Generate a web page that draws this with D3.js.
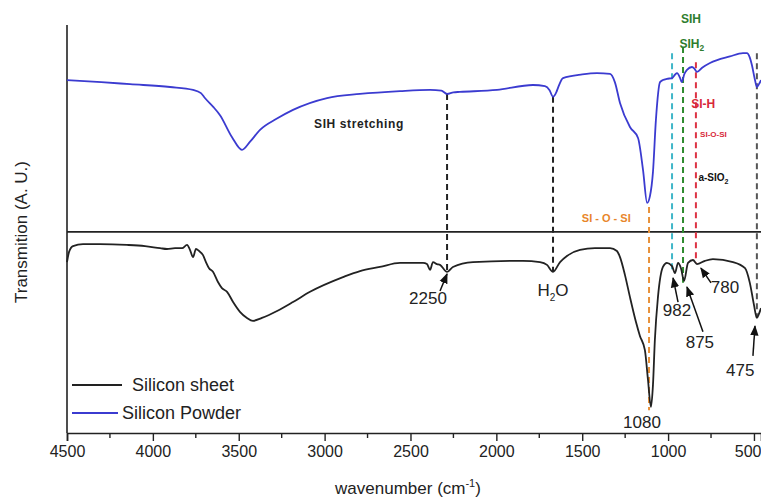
<!DOCTYPE html>
<html>
<head>
<meta charset="utf-8">
<script src="https://cdn.jsdelivr.net/npm/d3@7"></script>
<style>
body { margin: 0; background: #fff; }
text { font-family: "Liberation Sans", Arial, sans-serif; }
</style>
</head>
<body>
<svg width="761" height="499"></svg>
<script>
// FTIR spectra, wavenumber (cm-1) vs transmission (a.u., 0-100)
var powderWn = [4500,4300,4133,3900,3766,3720,3697,3650,3609,3539,3481,3434,3376,3280,3184,2986,2794,2561,2386,2320,2287,2250,2212,1996,1787,1717,1690,1670,1650,1641,1612,1500,1414,1338,1310,1280,1222,1175,1146,1122,1106,1088,1071,1047,1030,1007,977,960,948,930,921,905,890,861,845,832,800,756,640,564,541,524,512,494,483,471,459];
var powderT  = [86.5,86.0,85.5,84.8,84.1,83.3,82.1,80.0,77.9,72.5,69.4,71.4,74.3,77.0,79.2,82.1,83.1,83.8,84.1,83.9,83.1,83.5,83.6,84.1,85.3,85.0,84.0,82.4,83.6,84.6,87.0,87.9,88.2,88.0,86.0,80.9,75.0,72.3,64.5,56.4,58.0,64.0,76.7,86.0,86.5,86.8,87.0,87.8,88.2,87.0,86.0,88.0,89.0,89.7,89.2,88.5,89.6,90.7,92.3,93.1,93.1,92.0,90.2,86.5,84.8,85.5,86.5];

var sheetWn = [4500,4488,4465,4407,4308,4151,4046,3958,3918,3871,3830,3801,3784,3766,3749,3731,3708,3691,3673,3650,3621,3598,3568,3533,3493,3452,3417,3365,3277,3184,3085,2893,2794,2678,2561,2427,2404,2386,2369,2346,2328,2287,2253,2136,1845,1746,1705,1670,1629,1589,1513,1426,1338,1298,1280,1251,1222,1187,1164,1135,1117,1100,1088,1077,1059,1030,1007,977,960,942,925,907,884,855,832,785,739,622,552,524,500,483,471,459];
var sheetT  = [41.9,44.4,45.8,46.3,46.3,46.1,45.8,45.3,45.1,45.3,45.3,46.1,44.9,43.1,45.1,44.6,43.6,41.9,40.4,39.5,37.0,35.5,34.6,32.1,29.7,28.2,27.5,28.2,29.9,32.1,34.6,38.2,39.7,40.7,41.7,41.7,41.4,40.0,41.9,41.4,41.2,39.5,40.7,41.9,42.2,41.9,41.2,39.5,41.9,43.4,44.9,45.3,45.3,44.6,43.1,38.7,33.3,27.2,23.8,20.3,13.0,6.4,11.8,22.8,33.3,40.7,41.7,40.9,39.2,41.7,40.4,37.3,41.7,42.4,41.4,42.2,42.6,41.9,40.4,36.8,31.4,28.2,29.2,30.6];

// dashed guide lines between the two spectra
var guideWn     = [2287, 1670, 1111, 977, 913, 838, 483];
var guideTop    = [83.1, 82.4, 55.4, 93.1, 94.6, 90.9, 93.1];
var guideBottom = [39.5, 39.5, 5.6, 39.2, 36.8, 41.7, 28.2];
var guideColor  = ["#222", "#222", "#e8913a", "#3fb6c8", "#2e8b2e", "#dd3344", "#555"];

// peak labels on the sheet spectrum
var peakText = ["2250", "H2O", "982", "875", "780", "475", "1080"];
var peakWn   = [2398, 1670, 948, 815, 669, 580, 1152];
var peakT    = [31.6, 33.6, 28.7, 20.8, 34.3, 14.0, 1.2];
var arrowFrom = [[2328,34.8], null, [942,32.1], [797,24.8], [750,36.8], [506,18.9], null];
var arrowTo   = [[2287,39.0], null, [971,38.0], [890,35.8], [809,40.4], [494,26.2], null];

var xTicks = [4500,4000,3500,3000,2500,2000,1500,1000,500];
var xMinor = [4250,3750,3250,2750,2250,1750,1250,750];
var legendNames = ["Silicon sheet", "Silicon Powder"];
var legendColors = ["#222", "#3b3bd0"];

var svg = d3.select("svg");
var x = d3.scaleLinear().domain([4500, 459]).range([67, 761]);
var y = d3.scaleLinear().domain([0, 100]).range([433, 25]);

svg.append("defs").append("marker")
  .attr("id", "arr").attr("viewBox", "0 0 10 10")
  .attr("refX", 9).attr("refY", 5)
  .attr("markerWidth", 7).attr("markerHeight", 7)
  .attr("orient", "auto")
  .append("path").attr("d", "M0,1 L10,5 L0,9 z").attr("fill", "#111");

// axes
var xAxis = d3.axisBottom(x).tickValues(xTicks).tickSize(8).tickPadding(5).tickFormat(d3.format("d"));
var gx = svg.append("g").attr("transform", "translate(0,433)").call(xAxis);
gx.select(".domain").attr("stroke", "#222").attr("stroke-width", 1.6);
gx.selectAll(".tick line").attr("stroke", "#222").attr("stroke-width", 1.4);
gx.selectAll(".tick text").attr("font-size", 16).attr("fill", "#222")
  .style("font-family", "'Liberation Sans', Arial, sans-serif")
  .filter(d => d == 500).attr("text-anchor", "end").attr("dx", 7);
svg.append("g").selectAll("line").data(xMinor).join("line")
  .attr("x1", d => x(d)).attr("x2", d => x(d))
  .attr("y1", 433).attr("y2", 438)
  .attr("stroke", "#222").attr("stroke-width", 1.4);

svg.append("line").attr("x1", 67).attr("x2", 67).attr("y1", y(100)).attr("y2", 433)
  .attr("stroke", "#222").attr("stroke-width", 1.6);

// divider between the two spectra
svg.append("line").attr("x1", 67).attr("x2", 761).attr("y1", y(49.3)).attr("y2", y(49.3))
  .attr("stroke", "#222").attr("stroke-width", 1.6);

svg.append("text").attr("x", 408).attr("y", 494).attr("text-anchor", "middle")
  .attr("font-size", 17).attr("fill", "#222")
  .text("wavenumber (cm")
  .append("tspan").attr("dy", -7).attr("font-size", 11).text("-1")
  .select(function() { return this.parentNode; })
  .append("tspan").attr("dy", 7).text(")");

svg.append("text").attr("transform", "translate(27,232) rotate(-90)")
  .attr("text-anchor", "middle").attr("font-size", 17).attr("fill", "#222")
  .text("Transmition (A. U.)");

// guide lines
svg.append("g").selectAll("line").data(guideWn).join("line")
  .attr("x1", d => x(d)).attr("x2", d => x(d))
  .attr("y1", (d, i) => y(guideTop[i])).attr("y2", (d, i) => y(guideBottom[i]))
  .attr("stroke", (d, i) => guideColor[i])
  .attr("stroke-width", 2).attr("stroke-dasharray", "6,4");

// spectra
var line = d3.line().x(d => x(d[0])).y(d => y(d[1])).curve(d3.curveMonotoneX);
svg.append("path").datum(d3.zip(sheetWn, sheetT)).attr("d", line)
  .attr("fill", "none").attr("stroke", legendColors[0]).attr("stroke-width", 1.8);
svg.append("path").datum(d3.zip(powderWn, powderT)).attr("d", line)
  .attr("fill", "none").attr("stroke", legendColors[1]).attr("stroke-width", 1.8);

// peak labels + arrows
peakText.forEach(function(t, i) {
  var tx = svg.append("text").attr("x", x(peakWn[i])).attr("y", y(peakT[i]))
    .attr("text-anchor", "middle").attr("font-size", 17).attr("fill", "#222");
  if (t == "H2O") {
    tx.text("H");
    tx.append("tspan").attr("dy", 5).attr("font-size", 10).text("2");
    tx.append("tspan").attr("dy", -5).text("O");
  } else {
    tx.text(t);
  }
  if (arrowFrom[i]) {
    svg.append("line")
      .attr("x1", x(arrowFrom[i][0])).attr("y1", y(arrowFrom[i][1]))
      .attr("x2", x(arrowTo[i][0])).attr("y2", y(arrowTo[i][1]))
      .attr("stroke", "#111").attr("stroke-width", 1.5).attr("marker-end", "url(#arr)");
  }
});

// band assignments
var bands = [
  {t: "SIH stretching", wn: 2800, v: 74.8, c: "#222", s: 12, ls: 0.6},
  {t: "SIH", wn: 867, v: 100.5, c: "#2e7d2e", s: 12},
  {t: "SIH", sub: "2", wn: 862, v: 94.4, c: "#2e7d2e", s: 12},
  {t: "SI-H", wn: 795, v: 79.7, c: "#d8283a", s: 12},
  {t: "SI-O-SI", wn: 736, v: 72.5, c: "#d8283a", s: 8},
  {t: "a-SIO", sub: "2", wn: 736, v: 61.8, c: "#111", s: 10},
  {t: "SI - O - SI", wn: 1360, v: 51.7, c: "#e8862a", s: 11}
];
bands.forEach(function(b) {
  var tx = svg.append("text").attr("x", x(b.wn)).attr("y", y(b.v))
    .attr("text-anchor", "middle").attr("font-size", b.s)
    .attr("letter-spacing", b.ls || 0)
    .attr("font-weight", "bold").attr("fill", b.c).text(b.t);
  if (b.sub) tx.append("tspan").attr("dy", 3).attr("font-size", b.s * 0.7).text(b.sub);
});

// legend
legendNames.forEach(function(n, i) {
  var ly = 385 + i * 28;
  svg.append("line").attr("x1", 72).attr("x2", 122 - i * 4).attr("y1", ly).attr("y2", ly)
    .attr("stroke", legendColors[i]).attr("stroke-width", 1.8);
  svg.append("text").attr("x", 132 - i * 10).attr("y", ly + 6)
    .attr("font-size", 18).attr("fill", "#222").text(n);
});
</script>
</body>
</html>
